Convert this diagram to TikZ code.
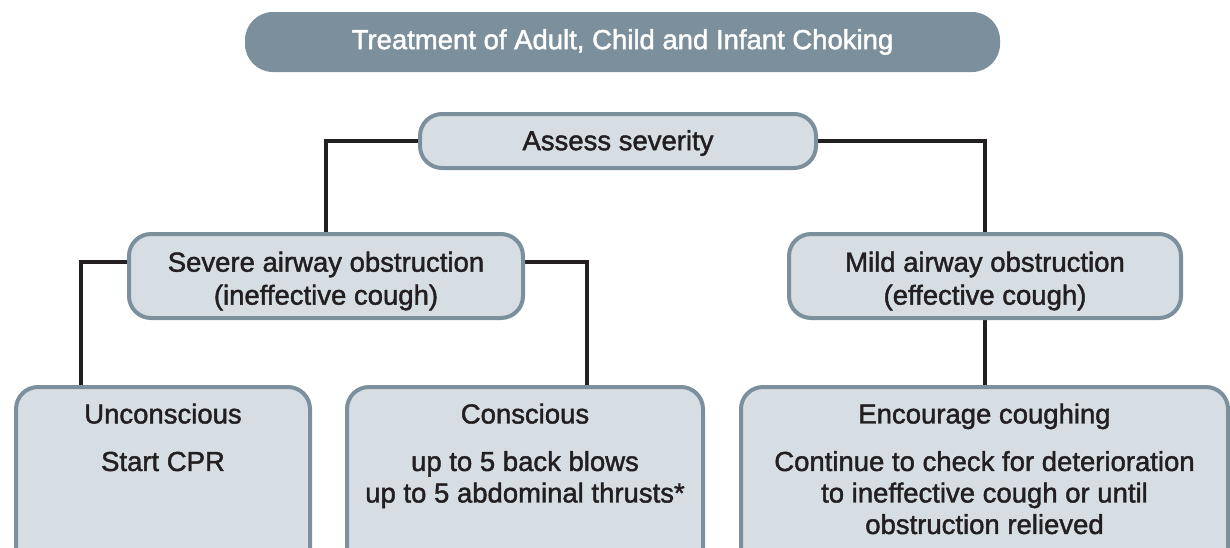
\documentclass[tikz,border=0pt]{standalone}
\usepackage{fontspec}
\setmainfont{Liberation Sans}
\newfontfamily\boxfont[FakeBold=1.6]{Liberation Sans}
\usetikzlibrary{positioning,backgrounds}

\definecolor{slate}{HTML}{7B909C}
\definecolor{pale}{HTML}{D6DEE3}
\definecolor{ink}{HTML}{231F20}

\begin{document}
\begin{tikzpicture}[x=1pt,y=-1pt,
	box/.style={draw=slate,fill=pale,line width=4pt,rounded corners=22pt,inner sep=0pt},
	txt/.style={text=ink,font=\boxfont\fontsize{27.5}{31.5}\selectfont,align=center},
	link/.style={draw=ink,line width=4.5pt}]

		\useasboundingbox (0,0) rectangle (1230,547);
		\clip (0,0) rectangle (1230,547);

		\node[fill=slate,rounded corners=28pt,minimum width=755pt,minimum height=60pt,text=white,font=\boxfont\fontsize{27.5}{30}\selectfont] (title) at (622.5,42) {Treatment of Adult, Child and Infant Choking};

		\node[box,txt,minimum width=396pt,minimum height=54pt] (assess) at (618,141) {\rule{0pt}{24pt}Assess severity};
		\node[box,txt,minimum width=394pt,minimum height=84pt] (severe) at (326,276) {\rule{0pt}{30pt}Severe airway obstruction\\[1.5pt](ineffective cough)};
		\node[box,txt,minimum width=392pt,minimum height=84pt] (mild) at (985,276) {\rule{0pt}{30pt}Mild airway obstruction\\[1.5pt](effective cough)};

		\node[box,anchor=north west,minimum width=294pt,minimum height=200pt] (uncon) at (14,385) {};
		\node[box,anchor=north west,minimum width=356pt,minimum height=200pt] (consc) at (345,385) {};
		\node[box,anchor=north west,minimum width=487pt,minimum height=200pt] (encour) at (739,385) {};

		\node[txt,anchor=north] (uncontxt) at ([yshift=-15pt]uncon.north) {Unconscious\\[16pt]Start CPR};
		\node[txt,anchor=north] (conscnt) at ([yshift=-15pt]consc.north) {Conscious\\[16pt]up to 5 back blows\\up to 5 abdominal thrusts*};
		\node[txt,anchor=north] (encourtxt) at ([yshift=-15pt]encour.north) {Encourage coughing\\[16pt]Continue to check for deterioration\\to ineffective cough or until\\obstruction relieved};

		\begin{scope}[on background layer]
		\draw[link] (assess.west) -| (severe.north);
		\draw[link] (assess.east) -| (mild.north);
		\draw[link] ([yshift=14pt]severe.west) -| ([xshift=-82pt]uncon.north);
		\draw[link] ([yshift=14pt]severe.east) -| ([xshift=62pt]consc.north);
		\draw[link] (mild.south) -- (mild.south |- encour.north);
		\end{scope}
	\end{tikzpicture}
\end{document}
